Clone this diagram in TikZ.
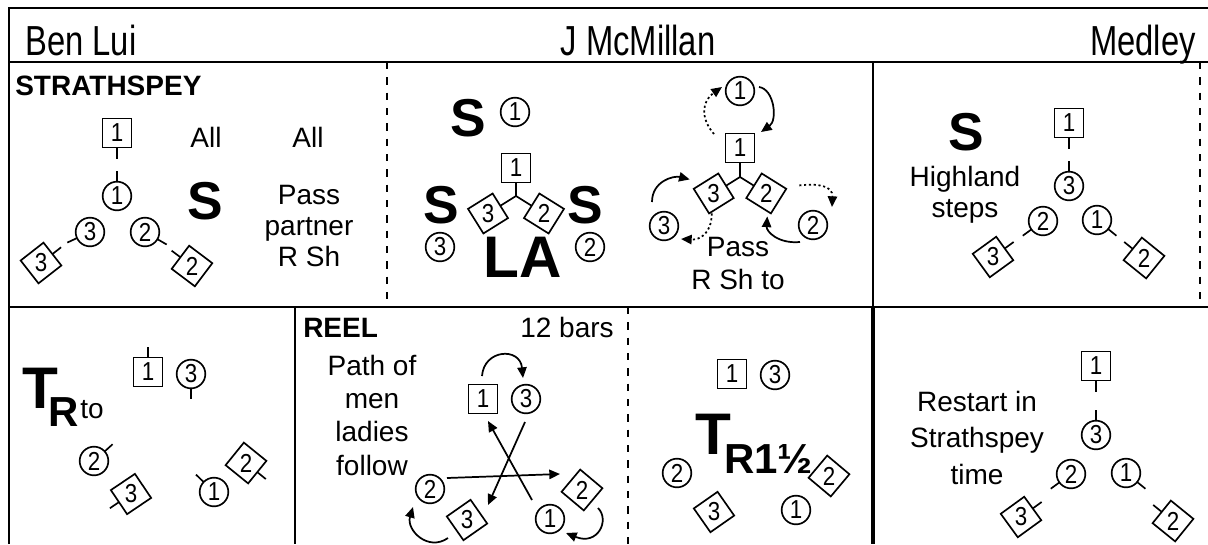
\documentclass[tikz,border=0pt]{standalone}
\usepackage{fontspec}
\setmainfont{Liberation Sans}
\newfontfamily\titlefont[FakeStretch=0.78]{Liberation Sans}
\newfontfamily\digitfam[FakeStretch=0.86]{Liberation Sans}
\usetikzlibrary{arrows.meta,calc}
\newcommand\digitfont{\digitfam\fontsize{19.5}{19.5}\selectfont}
% man: name, position, number, rotation of the square (degrees)
\newcommand\manbox[4]{%
  \node[manlbl] (#1) at (#2) {#3};
  \begin{scope}[shift={(#2)}, rotate=#4]
    \draw[shapeline] (-14.5,-14.5) rectangle (14.5,14.5);
  \end{scope}
}
% man with facing tick: name, position, number, facing angle (screen, clockwise)
\newcommand\man[4]{%
  \pgfmathsetmacro\manrot{-(#4)}
  \manbox{#1}{#2}{#3}{\manrot}
  \draw[facing] ($(#1.center)+(#4:14.5)$) -- ($(#1.center)+(#4:25.5)$);
}
\newcommand\lady[4]{% name, position, number, facing angle
  \node[lady] (#1) at (#2) {#3};
  \draw[facing] ($(#1.center)+(#4:14.5)$) -- ($(#1.center)+(#4:25)$);
}
\begin{document}
\begin{tikzpicture}[x=0.75pt,y=-0.75pt,
  frame/.style={line width=2pt},
  divider/.style={line width=1.6pt},
  dashdiv/.style={line width=1.3pt, dash pattern=on 5.5pt off 6pt},
  thickdiv/.style={line width=3.2pt},
  shapeline/.style={line width=1.25pt},
  manlbl/.style={circle, minimum size=21.75pt, inner sep=0pt, font=\digitfont},
  lady/.style={circle, draw, line width=1.25pt, minimum size=21.5pt, inner sep=0pt, font=\digitfont},
  facing/.style={line width=1.25pt},
  arr/.style={line width=1.3pt, -{Triangle[length=8pt,width=7pt]}},
  darr/.style={arr, dash pattern=on 1.6pt off 2pt},
  txt/.style={inner sep=0pt},
  title/.style={txt, font=\titlefont\fontsize{31.5}{31.5}\selectfont},
  head/.style={txt, font=\bfseries\fontsize{21}{24}\selectfont},
  body/.style={txt, align=center, font=\fontsize{21}{24}\selectfont},
  bigS/.style={txt, font=\bfseries\fontsize{40}{40}\selectfont},
  bigT/.style={txt, font=\bfseries\fontsize{44}{44}\selectfont},
  subR/.style={txt, font=\bfseries\fontsize{31.5}{31.5}\selectfont},
]
\useasboundingbox (0,0) rectangle (1208,544);

% frame
\draw[frame] (9,544) -- (9,8) -- (1208,8);
\draw[divider] (9,62) -- (1208,62);
\draw[divider] (9,307) -- (1208,307);
\draw[dashdiv] (387,62) -- (387,307);
\draw[divider] (873,62) -- (873,307);
\draw[dashdiv] (1200,62) -- (1200,307);
\draw[divider] (295,307) -- (295,544);
\draw[dashdiv] (628,307) -- (628,544);
\draw[thickdiv] (873,307) -- (873,544);

% title row
\node[title, anchor=base west] (tben) at (25,55) {Ben Lui};
\node[title, anchor=base] (tmcm) at (638,55) {J McMillan};
\node[title, anchor=base east] (tmed) at (1196,55) {Medley};

% ---- panel 1
\node[head, anchor=base west] (strath) at (15,95) {STRATHSPEY};
\node[body, anchor=base] (all1) at (206,147) {All};
\node[body, anchor=base] (all2) at (308,147) {All};
\node[bigS, anchor=base] (s1) at (205,219) {S};
\node[body, anchor=north, font=\fontsize{21}{23.6}\selectfont] (pass1) at (309,184.5) {Pass\\partner\\R Sh};
\man{a1}{117,133}{1}{90}
\lady{a2}{117,196}{1}{270}
\lady{a3}{90,232}{3}{155}
\lady{a4}{145,232}{2}{30}
\man{a5}{41,263}{3}{-38}
\man{a6}{192,266}{2}{217}

% ---- panel 2 left
\node[bigS, anchor=base] (s2a) at (468,136) {S};
\node[lady] (b1) at (515,112) {1};
\coordinate (ja) at (516,196);
\manbox{b2}{516,168}{1}{0}
\coordinate (b3pos) at ($(ja)+(148:33)$);
\manbox{b3}{b3pos}{3}{32}
\coordinate (b4pos) at ($(ja)+(32:33)$);
\manbox{b4}{b4pos}{2}{58}
\draw[facing] (b2.south) -- (ja);
\draw[facing] ($(b3.center)+(-32:14.5)$) -- (ja);
\draw[facing] ($(b4.center)+(212:14.5)$) -- (ja);
\node[bigS, anchor=base] (s2b) at (441,223) {S};
\node[bigS, anchor=base] (s2c) at (585,223) {S};
\node[lady] (b5) at (440,247) {3};
\node[lady] (b6) at (590,247) {2};
\node[bigT, anchor=base] (la) at (523,277) {LA};

% ---- panel 2 right
\node[lady] (c1) at (740,91) {1};
\coordinate (jb) at (740,177);
\manbox{c2}{740,148}{1}{0}
\coordinate (c3pos) at ($(jb)+(148:31)$);
\manbox{c3}{c3pos}{3}{32}
\coordinate (c4pos) at ($(jb)+(32:31)$);
\manbox{c4}{c4pos}{2}{58}
\draw[facing] (c2.south) -- (jb);
\draw[facing] ($(c3.center)+(-32:14.5)$) -- (jb);
\draw[facing] ($(c4.center)+(212:14.5)$) -- (jb);
\node[lady] (c5) at (664,226) {3};
\node[lady] (c6) at (813,225) {2};
\node[body, anchor=north, font=\fontsize{21}{24.75}\selectfont] (pass2) at (738,236.5) {Pass\\R Sh to};
\draw[arr] ($(c1)+(19,-4)$) .. controls ($(c1)+(34,-2)$) and ($(c2)+(38,-28)$) .. ($(c2)+(21,-16)$);
\draw[darr] ($(c2)+(-26,-14)$) .. controls ($(c2)+(-40,-30)$) and ($(c1)+(-38,10)$) .. ($(c1)+(-18,-4)$);
\draw[arr] ($(c5)+(-12,-24)$) .. controls ($(c5)+(-12,-45)$) and ($(c3)+(-40,-18)$) .. ($(c3)+(-24,-14)$);
\draw[darr] ($(c3)+(-2,20)$) .. controls ($(c3)+(-2,40)$) and ($(c5)+(36,14)$) .. ($(c5)+(17,13)$);
\draw[darr] ($(c4)+(33,-8)$) .. controls ($(c4)+(50,-10)$) and ($(c6)+(20,-40)$) .. ($(c6)+(19,-18)$);
\draw[arr] ($(c6)+(-13,17)$) .. controls ($(c6)+(-35,19)$) and ($(c4)+(0,38)$) .. ($(c4)+(1,23)$);

% ---- panel 3
\node[bigS, anchor=base] (s3) at (966,150) {S};
\node[body, anchor=north, font=\fontsize{21}{23.25}\selectfont] (high) at (965,165.5) {Highland\\steps};
\man{d1}{1069,123}{1}{90}
\lady{d2}{1069,186}{3}{270}
\lady{d3}{1043,221}{2}{144}
\lady{d4}{1097,220}{1}{39}
\man{d5}{993,257}{3}{-36}
\man{d6}{1144,258}{2}{219}

% ---- panel 4
\node[bigT, anchor=base west] (t4) at (22,408) {T};
\node[subR, anchor=base west] (r4) at (48,426) {R};
\node[body, anchor=base west] (to4) at (80,418) {to};
\man{e1}{148,372}{1}{270}
\lady{e2}{191,374}{3}{90}
\lady{e3}{94,461}{2}{-42}
\man{e4}{131,494}{3}{146}
\lady{e5}{214,492}{1}{224}
\man{e6}{246,463}{2}{39}

% ---- panel 5
\node[head, anchor=base west] (reel) at (303,337) {REEL};
\node[body, anchor=base east] (bars) at (614,337) {12 bars};
\node[body, anchor=north, font=\fontsize{21}{25}\selectfont] (path) at (372,354.5) {Path of\\men\\ladies\\follow};
\manbox{f1}{483,399}{1}{0}
\node[lady] (f2) at (526,399) {3};
\node[lady] (f3) at (430,489) {2};
\manbox{f4}{467,520}{3}{35}
\node[lady] (f5) at (550,519) {1};
\manbox{f6}{582,490}{2}{50}
\draw[arr] ($(f1)+(-1,-23)$) .. controls ($(f1)+(1,-50)$) and ($(f2)+(-6,-52)$) .. ($(f2)+(-3,-21)$);
\draw[arr] ($(f5)+(-18,-19)$) -- ($(f1)+(5,22)$);
\draw[arr] ($(f2)+(-1,23)$) -- ($(f4)+(21,-15)$);
\draw[arr] ($(f3)+(17,-11)$) -- ($(f6)+(-22,-16)$);
\draw[arr] ($(f4)+(-19,18)$) .. controls ($(f4)+(-39,32)$) and ($(f4)+(-61,10)$) .. ($(f3)+(-17,18)$);
\draw[arr] ($(f6)+(16,18)$) .. controls ($(f6)+(28,30)$) and ($(f6)+(16,56)$) .. ($(f5)+(16,14)$);

% ---- panel 6
\node[bigT, anchor=base west] (t6) at (695,454) {T};
\node[subR, anchor=base west] (r6) at (724,473) {R1½};
\manbox{g1}{732,374}{1}{0}
\node[lady] (g2) at (775,375) {3};
\node[lady] (g3) at (677,473) {2};
\manbox{g4}{829,476}{2}{50}
\manbox{g5}{714,512}{3}{35}
\node[lady] (g6) at (796,510) {1};

% ---- panel 7
\node[body, anchor=north, font=\fontsize{21}{27.4}\selectfont] (restart) at (977,390.5) {Restart in\\Strathspey\\time};
\man{h1}{1096,366}{1}{90}
\lady{h2}{1096,435}{3}{270}
\lady{h3}{1071,474}{2}{144}
\lady{h4}{1126,473}{1}{39}
\man{h5}{1021,517}{3}{-36}
\man{h6}{1173,521}{2}{219}
\end{tikzpicture}
\end{document}
